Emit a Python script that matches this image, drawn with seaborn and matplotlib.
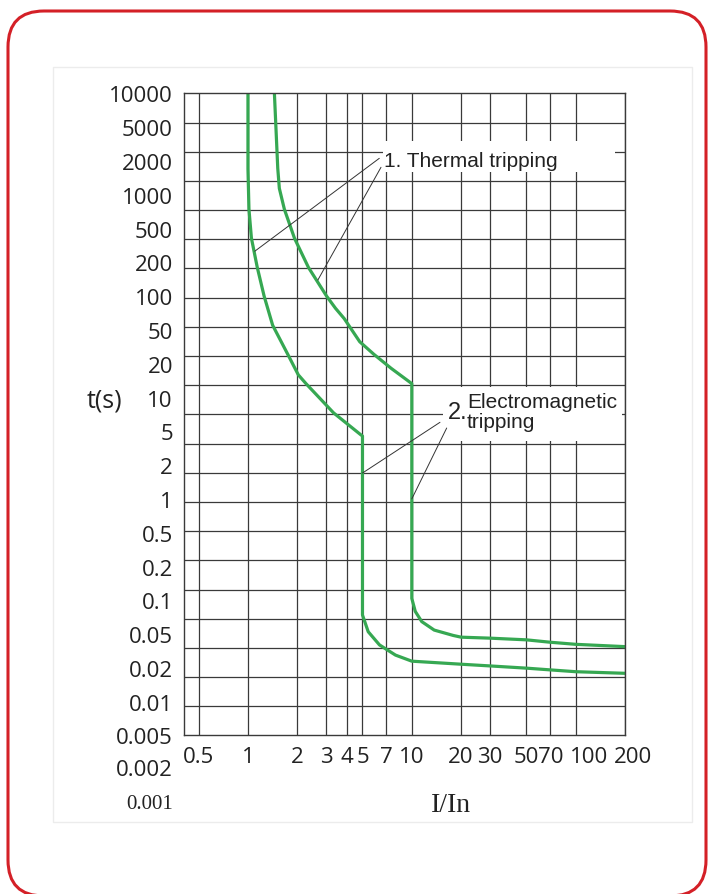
import numpy as np
import pandas as pd
import seaborn as sns
import matplotlib.pyplot as plt
from matplotlib.patches import FancyBboxPatch, Rectangle
from matplotlib.ticker import FixedLocator, NullLocator
from matplotlib.transforms import ScaledTranslation

# rótulos do eixo t(s): ficam igualmente espaçados na figura original
t_labels = [10000, 5000, 2000, 1000, 500, 200, 100, 50, 20, 10, 5, 2, 1,
            0.5, 0.2, 0.1, 0.05, 0.02, 0.01, 0.005, 0.002, 0.001]
t_label_txt = ['10000', '5000', '2000', '1000', '500', '200', '100', '50', '20',
               '10', '5', '2', '1', '0.5', '0.2', '0.1', '0.05', '0.02', '0.01',
               '0.005', '0.002', '0.001']

# eixo I/In
i_ticks = [0.5, 1, 2, 3, 4, 5, 7, 10, 20, 30, 50, 70, 100, 200]
i_tick_txt = ['0.5', '1', '2', '3', '4', '5', '7', '10', '20', '30', '50', '70', '100', '200']

# curva da esquerda (limite inferior)
curva_a_i = [1.0, 1.0, 1.014, 1.05, 1.14, 1.255, 1.415, 1.75, 2.03, 2.26, 3.33,
             4.85, 5.0, 5.0, 5.42, 6.35, 7.95, 10, 20, 30, 50, 70, 100, 200]
curva_a_t = [10000, 1700, 743, 384, 180, 100, 55, 25.8, 15.9, 13.3, 7.3,
             4.6, 4.4, 0.074, 0.0525, 0.0373, 0.0283, 0.024, 0.0221, 0.0211, 0.0199,
             0.0192, 0.0185, 0.0179]

# curva da direita (limite superior)
curva_b_i = [1.45, 1.52, 1.554, 1.668, 1.923, 2.34, 3.02, 3.42, 3.87, 4.81, 5.87, 7.48,
             10, 10, 10.5, 11.5, 13.7, 17.9, 20, 30, 50, 70, 100, 200]
curva_b_t = [10000, 1718, 1140, 743, 384, 180, 100, 78, 63, 36.3, 25.8, 18.2,
             13.3, 0.104, 0.0796, 0.0646, 0.0543, 0.0482, 0.046, 0.0448, 0.0428,
             0.0401, 0.0379, 0.0356]

sns.set_style('white')
plt.rcParams['font.family'] = ['Open Sans', 'DejaVu Sans']

#escala do eixo y: posição = índice do rótulo (1-2-5 igualmente espaçado)
log_lab = np.log10(t_labels)[::-1]
pos_lab = -np.arange(len(t_labels))[::-1].astype(float)

def t_para_pos(t):
    t = np.clip(np.asarray(t, dtype=float), 1e-4, 1e5)
    return np.interp(np.log10(t), log_lab, pos_lab)

def pos_para_t(p):
    return 10 ** np.interp(np.asarray(p, dtype=float), pos_lab, log_lab)

df = pd.concat([
    pd.DataFrame({'I/In': curva_a_i, 't(s)': curva_a_t, 'curva': 'A'}),
    pd.DataFrame({'I/In': curva_b_i, 't(s)': curva_b_t, 'curva': 'B'}),
], ignore_index=True)

fig = plt.figure(figsize=(7.14, 8.95), dpi=100)

# moldura vermelha arredondada e painel claro
painel = Rectangle((0.53, 0.72), 6.39, 7.55, transform=fig.dpi_scale_trans,
                   fc='white', ec='#ececec', lw=1, zorder=-1)
borda = FancyBboxPatch((0.08, -0.02), 6.98, 8.85, boxstyle='round,pad=0,rounding_size=0.36',
                       transform=fig.dpi_scale_trans, fc='none', ec='#d42027', lw=2.2)
fig.patches.extend([painel, borda])

ax = fig.add_axes([0.2577, 0.1771, 0.6176, 0.7175])

sns.lineplot(data=df, x='I/In', y='t(s)', units='curva', estimator=None, sort=False,
             color='#36a852', lw=2.3, ax=ax, legend=False, zorder=2,
             solid_joinstyle='round')

ax.set_xscale('log')
ax.set_yscale('function', functions=(t_para_pos, pos_para_t))
ax.set_xlim(0.407, 200)
ax.set_ylim(0.005, 10000)

ax.set_xticks(i_ticks, labels=i_tick_txt)
ax.xaxis.set_minor_locator(NullLocator())
ax.set_yticks(t_labels[:20], labels=t_label_txt[:20])
ax.yaxis.set_minor_locator(FixedLocator(pos_para_t(np.linspace(-19, 0, 23))))

ax.tick_params(which='both', length=0, labelsize=16, colors='#222222')
ax.tick_params(axis='y', pad=8)
ax.tick_params(axis='x', pad=7.5)

# deslocando os rótulos 100 e 200 como no original
for lab in ax.get_xticklabels():
    if lab.get_text() == '100':
        lab.set_transform(lab.get_transform() + ScaledTranslation(10 / 72, 0, fig.dpi_scale_trans))
    if lab.get_text() == '200':
        lab.set_transform(lab.get_transform() + ScaledTranslation(6 / 72, 0, fig.dpi_scale_trans))

ax.set_axisbelow(True)
ax.grid(False)
ax.xaxis.grid(True, which='major', color='#3a3a3a', lw=0.9)
ax.yaxis.grid(True, which='minor', color='#3a3a3a', lw=0.9)
for sp in ax.spines.values():
    sp.set_color('#3a3a3a')
    sp.set_linewidth(1.0)
ax.set_xlabel('')
ax.set_ylabel('')

#rótulos abaixo do eixo
ax.text(-0.025, 0.002, '0.002', transform=ax.get_yaxis_transform(), ha='right', va='center',
        fontsize=16, color='#222222', clip_on=False)
ax.text(-0.025, 0.001, '0.001', transform=ax.get_yaxis_transform(), ha='right', va='center',
        fontsize=15, family=['Liberation Serif'], color='#222222', clip_on=False)

# caixas brancas atrás das legendas
ax.add_patch(Rectangle((0.4512, 0.8775), 0.5261, 0.0482, transform=ax.transAxes,
                       fc='white', ec='none', zorder=1.5))
ax.add_patch(Rectangle((0.5873, 0.4586), 0.4059, 0.0841, transform=ax.transAxes,
                       fc='white', ec='none', zorder=1.5))

linha = dict(arrowstyle='-', color='#333333', lw=0.7, shrinkA=0, shrinkB=0)
ax.annotate('', xy=(1.10, 270), xytext=(0.4429, 0.8988), textcoords='axes fraction',
            arrowprops=linha, zorder=3)
ax.annotate('', xy=(2.67, 139), xytext=(0.4467, 0.8848), textcoords='axes fraction',
            arrowprops=linha, zorder=3)
ax.annotate('', xy=(5.0, 1.7), xytext=(0.5805, 0.4877), textcoords='axes fraction',
            arrowprops=linha, zorder=3)
ax.annotate('', xy=(10.0, 1.0), xytext=(0.5957, 0.4788), textcoords='axes fraction',
            arrowprops=linha, zorder=3)

ax.text(0.4535, 0.8868, '1. Thermal tripping', transform=ax.transAxes, ha='left',
        va='baseline', fontsize=15, family=['Liberation Sans'], color='#222222', zorder=4)
ax.text(0.5986, 0.4939, '2.', transform=ax.transAxes, ha='left', va='baseline',
        fontsize=17, family=['Liberation Sans'], color='#222222', zorder=4)
ax.text(0.6417, 0.5111, 'Electromagnetic', transform=ax.transAxes, ha='left',
        va='baseline', fontsize=15, family=['Liberation Sans'], color='#222222', zorder=4)
ax.text(0.6417, 0.4799, 'tripping', transform=ax.transAxes, ha='left',
        va='baseline', fontsize=15, family=['Liberation Sans'], color='#222222', zorder=4)

fig.text(0.1457, 0.5520, 't(s)', ha='center', va='center', fontsize=18, color='#222222')
fig.text(0.6317, 0.0927, 'I/In', ha='center', va='baseline', fontsize=20,
         family=['Liberation Serif'], color='#222222')

fig.savefig('out.png', dpi=100)
